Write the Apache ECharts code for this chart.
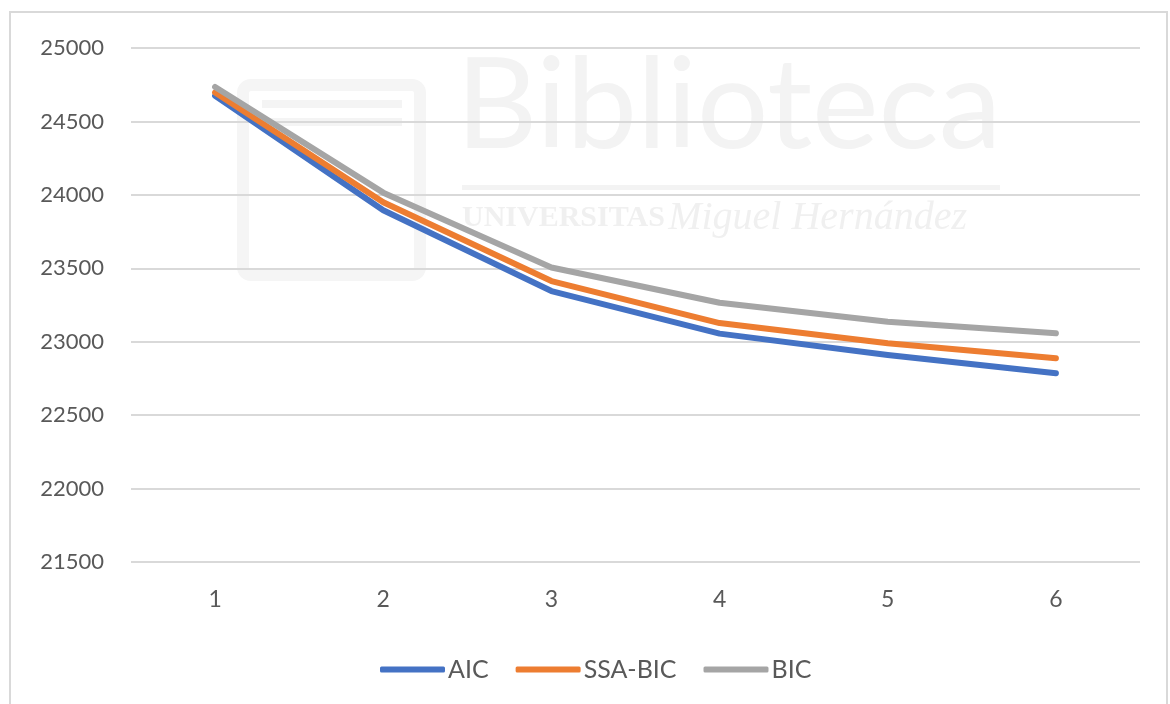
<!DOCTYPE html>
<html>
<head>
<meta charset="utf-8">
<script src="https://cdn.jsdelivr.net/npm/echarts@6/dist/echarts.min.js"></script>
<style>
  html, body { margin: 0; padding: 0; background: #ffffff; }
  #chart { width: 1170px; height: 704px; }
</style>
</head>
<body>
<div id="chart"></div>
<script>
// Number of latent classes on the x axis
const categories = ['1', '2', '3', '4', '5', '6'];

// Information criteria per model
const aic    = [24675, 23895, 23345, 23055, 22910, 22785];
const ssaBic = [24697, 23950, 23413, 23127, 22989, 22887];
const bic    = [24735, 24015, 23505, 23265, 23136, 23057];

const seriesNames = ['AIC', 'SSA-BIC', 'BIC'];
const seriesColors = ['#4472C4', '#ED7D31', '#A5A5A5'];

const chart = echarts.init(document.getElementById('chart'), null, { renderer: 'canvas' });

const labelFont = 'Lato, "Open Sans", "Liberation Sans", sans-serif';

function lineSeries(name, data, color) {
  return {
    name: name,
    type: 'line',
    data: data,
    symbol: 'none',
    smooth: false,
    lineStyle: { width: 6, color: color, cap: 'round', join: 'round' },
    itemStyle: { color: color },
    emphasis: { disabled: true },
    z: 3
  };
}

chart.setOption({
  animation: false,
  backgroundColor: '#ffffff',
  grid: { left: 131, right: 30, top: 48, bottom: 142, containLabel: false },
  graphic: [
    // chart frame
    {
      type: 'rect', silent: true, z: -20,
      shape: { x: 10, y: 12, width: 1157, height: 720 },
      style: { fill: 'none', stroke: '#d9d9d9', lineWidth: 2 }
    },
    // faint library watermark
    {
      type: 'group', silent: true, z: -10,
      children: [
        { type: 'rect', shape: { x: 243, y: 85, width: 177, height: 190, r: 8 },
          style: { fill: 'none', stroke: '#f5f5f5', lineWidth: 12 } },
        { type: 'rect', shape: { x: 262, y: 100, width: 140, height: 8 },
          style: { fill: '#f4f4f4' } },
        { type: 'rect', shape: { x: 262, y: 118, width: 140, height: 8 },
          style: { fill: '#f4f4f4' } },
        { type: 'text', x: 456, y: 170,
          style: { text: 'Biblioteca', font: '400 126px Lato, "Open Sans", sans-serif',
                   fill: '#f3f3f3', textVerticalAlign: 'bottom' } },
        { type: 'rect', shape: { x: 462, y: 185, width: 538, height: 5 },
          style: { fill: '#f3f3f3' } },
        { type: 'text', x: 462, y: 218,
          style: {
            text: '{a|UNIVERSITAS} {b|Miguel Hernández}',
            textVerticalAlign: 'middle',
            rich: {
              a: { font: 'bold 30px "Liberation Serif", "DejaVu Serif", serif', fill: '#f0f0f0' },
              b: { font: 'italic 40px "Liberation Serif", "DejaVu Serif", serif', fill: '#f0f0f0' }
            }
          } }
      ]
    }
  ],
  legend: {
    data: seriesNames,
    bottom: 17,
    left: 375,
    itemWidth: 65,
    itemHeight: 6,
    itemGap: 27,
    icon: 'roundRect',
    textStyle: { color: '#595959', fontSize: 25, fontFamily: labelFont, padding: [0, 0, 0, -2] }
  },
  xAxis: {
    type: 'category',
    data: categories,
    boundaryGap: true,
    axisLine: { show: false },
    axisTick: { show: false },
    axisLabel: { color: '#595959', fontSize: 23, fontFamily: labelFont, margin: 26 },
    splitLine: { show: false }
  },
  yAxis: {
    type: 'value',
    min: 21500,
    max: 25000,
    interval: 500,
    axisLine: { show: false },
    axisTick: { show: false },
    axisLabel: {
      color: '#595959', fontSize: 22, fontFamily: labelFont, margin: 27,
      formatter: function (v) { return String(v); }
    },
    splitLine: { show: true, lineStyle: { color: '#d9d9d9', width: 2 } }
  },
  series: [
    lineSeries(seriesNames[0], aic, seriesColors[0]),
    lineSeries(seriesNames[1], ssaBic, seriesColors[1]),
    lineSeries(seriesNames[2], bic, seriesColors[2])
  ]
});
</script>
</body>
</html>
